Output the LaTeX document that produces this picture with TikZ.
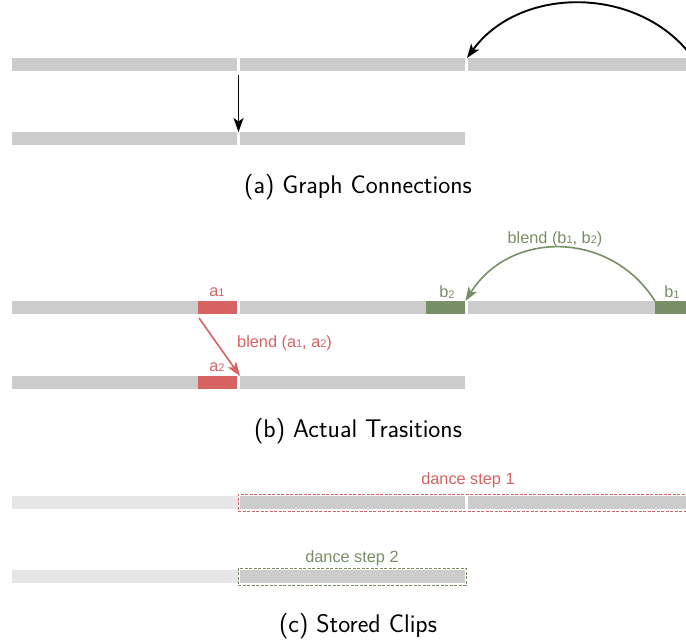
\documentclass[tikz,border=0pt]{standalone}
\usepackage{fontspec}
\newfontfamily\lab{Liberation Sans}
\usetikzlibrary{arrows.meta}
\definecolor{bargray}{RGB}{204,204,204}
\definecolor{lightbar}{RGB}{230,230,230}
\definecolor{myred}{RGB}{214,98,98}
\definecolor{mygreen}{RGB}{120,143,102}
\newcommand{\sbs}[1]{\raisebox{-0.5pt}{\fontsize{11}{12}\selectfont #1}}
\begin{document}
\begin{tikzpicture}[x=1pt,y=-1pt,
  bar/.style={fill=bargray,draw=none,inner sep=0pt,minimum height=13pt,anchor=north west},
  lbar/.style={bar,fill=lightbar},
  hl/.style={bar,minimum width=39pt},
  lbl/.style={font=\lab\fontsize{16.3}{19}\selectfont,inner sep=0pt},
  captxt/.style={font=\sffamily\fontsize{25.5}{30}\selectfont,inner sep=0pt},
  arr/.style={-{Stealth[length=14pt,width=10pt,inset=3.5pt]},line width=1.9pt},
  dbox/.style={dashed,dash pattern=on 3pt off 1.5pt,line width=0.9pt,inner sep=0pt,anchor=north west}]
\useasboundingbox (0,0) rectangle (686,642);
\clip (0,0) rectangle (686,642);
% (a)
\node[bar,minimum width=225pt] (a1) at (12,58) {};
\node[bar,minimum width=225pt] (a2) at (240,58) {};
\node[bar,minimum width=225pt] (a3) at (468,58) {};
\node[bar,minimum width=225pt] (a4) at (12,132) {};
\node[bar,minimum width=225pt] (a5) at (240,132) {};
\coordinate (g1) at (238.5,75);
\coordinate (g2) at (238.5,132);
\draw[arr] (g1) -- (g2);
\coordinate (s1) at (693,58);
\coordinate (e1) at (467,58);
\draw[arr] (s1) .. controls (640,-15) and (520,-15) .. (e1);
\node[captxt] (capa) at (358,187) {(a) Graph Connections};
% (b)
\node[bar,minimum width=225pt] (b1) at (12,301) {};
\node[bar,minimum width=225pt] (b2) at (240,301) {};
\node[bar,minimum width=225pt] (b3) at (468,301) {};
\node[bar,minimum width=225pt] (b4) at (12,376) {};
\node[bar,minimum width=225pt] (b5) at (240,376) {};
\node[hl,fill=myred] (ra1) at (198,301) {};
\node[hl,fill=myred] (ra2) at (198,376) {};
\node[hl,fill=mygreen] (gb2) at (426,301) {};
\node[hl,fill=mygreen] (gb1) at (655,301) {};
\node[lbl,text=myred] (la1) at (217,292) {a\sbs{1}};
\node[lbl,text=myred] (la2) at (217,367) {a\sbs{2}};
\node[lbl,text=mygreen] (lb2) at (447,292) {b\sbs{2}};
\node[lbl,text=mygreen] (lb1) at (672,292) {b\sbs{1}};
\coordinate (rs) at (199,318);
\draw[arr,myred,line width=1.6pt] (rs) -- (b5.north west);
\node[lbl,text=myred,anchor=west] (bla) at (237,343) {blend (a\sbs{1}, a\sbs{2})};
\draw[arr,mygreen,line width=1.6pt] (gb1.north west) .. controls (610,230) and (510,230) .. (gb2.north east);
\node[lbl,text=mygreen] (blb) at (555,239) {blend (b\sbs{1}, b\sbs{2})};
\node[captxt] (capb) at (358,431) {(b) Actual Trasitions};
% (c)
\node[lbar,minimum width=226pt] (c1) at (12,496) {};
\node[bar,minimum width=225pt] (c2) at (240,496) {};
\node[bar,minimum width=225pt] (c3) at (468,496) {};
\node[lbar,minimum width=226pt] (c4) at (12,570) {};
\node[bar,minimum width=225pt] (c5) at (240,570) {};
\node[dbox,draw=myred,minimum width=460pt,minimum height=17pt] (d1) at (238,494) {};
\node[dbox,draw=mygreen,minimum width=228pt,minimum height=17pt] (d2) at (238,568) {};
\node[lbl,text=myred] (ld1) at (468,480) {dance step 1};
\node[lbl,text=mygreen] (ld2) at (352,558) {dance step 2};
\node[captxt] (capc) at (358,626) {(c) Stored Clips};
\end{tikzpicture}
\end{document}
